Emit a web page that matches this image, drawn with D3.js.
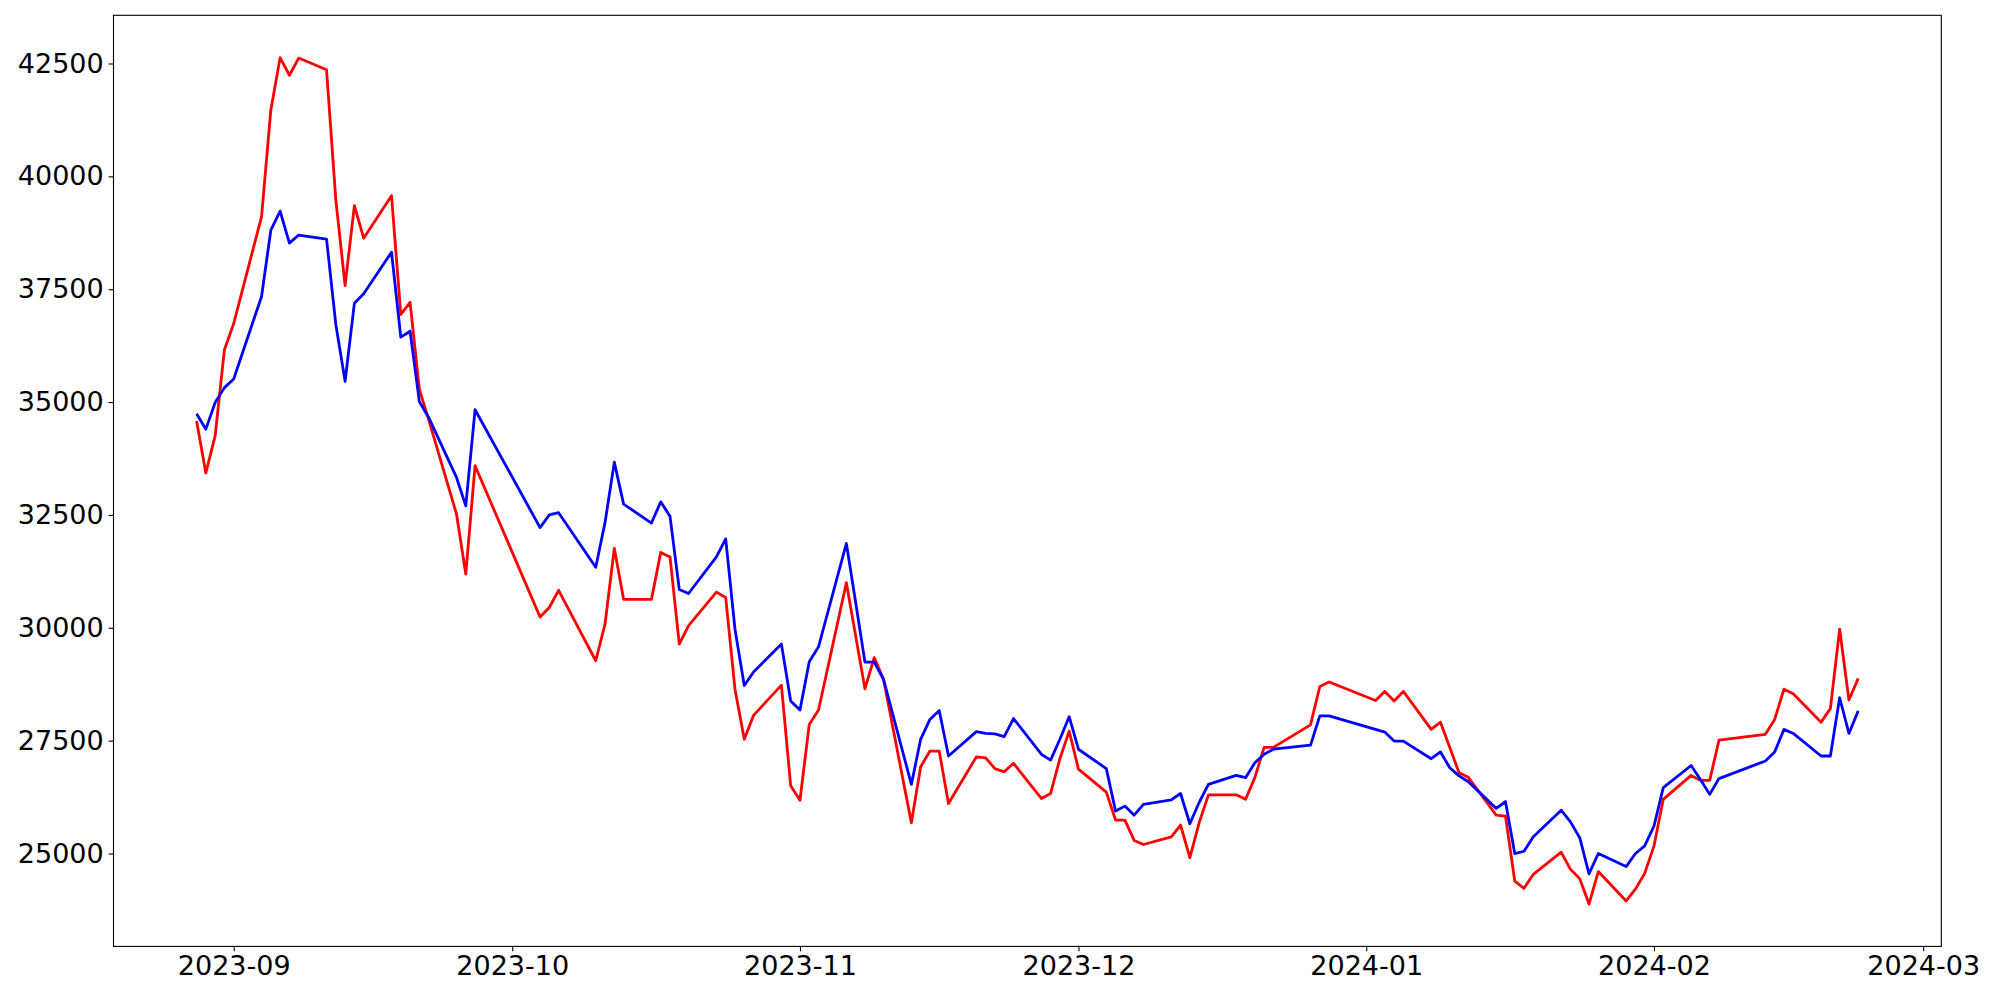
<!DOCTYPE html>
<html>
<head>
<meta charset="utf-8">
<script src="https://cdn.jsdelivr.net/npm/d3@7"></script>
<style>
  body { margin: 0; background: #ffffff; }
  svg { display: block; }
</style>
</head>
<body>
<div id="chart"></div>
<script>
(function() {
	"use strict";

	// trading days (KRX calendar)
	var dates = [
		"2023-08-28","2023-08-29","2023-08-30","2023-08-31","2023-09-01",
		"2023-09-04","2023-09-05","2023-09-06","2023-09-07","2023-09-08",
		"2023-09-11","2023-09-12","2023-09-13","2023-09-14","2023-09-15",
		"2023-09-18","2023-09-19","2023-09-20","2023-09-21","2023-09-22",
		"2023-09-25","2023-09-26","2023-09-27",
		"2023-10-04","2023-10-05","2023-10-06",
		"2023-10-10","2023-10-11","2023-10-12","2023-10-13",
		"2023-10-16","2023-10-17","2023-10-18","2023-10-19","2023-10-20",
		"2023-10-23","2023-10-24","2023-10-25","2023-10-26","2023-10-27",
		"2023-10-30","2023-10-31","2023-11-01","2023-11-02","2023-11-03",
		"2023-11-06","2023-11-07","2023-11-08","2023-11-09","2023-11-10",
		"2023-11-13","2023-11-14","2023-11-15","2023-11-16","2023-11-17",
		"2023-11-20","2023-11-21","2023-11-22","2023-11-23","2023-11-24",
		"2023-11-27","2023-11-28","2023-11-29","2023-11-30","2023-12-01",
		"2023-12-04","2023-12-05","2023-12-06","2023-12-07","2023-12-08",
		"2023-12-11","2023-12-12","2023-12-13","2023-12-14","2023-12-15",
		"2023-12-18","2023-12-19","2023-12-20","2023-12-21","2023-12-22",
		"2023-12-26","2023-12-27","2023-12-28",
		"2024-01-02","2024-01-03","2024-01-04","2024-01-05",
		"2024-01-08","2024-01-09","2024-01-10","2024-01-11","2024-01-12",
		"2024-01-15","2024-01-16","2024-01-17","2024-01-18","2024-01-19",
		"2024-01-22","2024-01-23","2024-01-24","2024-01-25","2024-01-26",
		"2024-01-29","2024-01-30","2024-01-31","2024-02-01","2024-02-02",
		"2024-02-05","2024-02-06","2024-02-07","2024-02-08",
		"2024-02-13","2024-02-14","2024-02-15","2024-02-16",
		"2024-02-19","2024-02-20","2024-02-21","2024-02-22","2024-02-23"
	];

	var redValues = [
		34580, 33430, 34250, 36160, 36740,
		39110, 41470, 42630, 42240, 42620,
		42360, 39480, 37580, 39350, 38630,
		39570, 36940, 37210, 35280, 34610,
		32520, 31190, 33590,
		30240, 30450, 30830,
		29270, 30080, 31760, 30630,
		30630, 31670, 31570, 29640, 30050,
		30790, 30670, 28640, 27530, 28060,
		28730, 26500, 26180, 27860, 28180,
		31000, 29820, 28650, 29340, 28860,
		25680, 26920, 27270, 27270, 26110,
		27140, 27120, 26880, 26810, 27000,
		26220, 26330, 27100, 27710, 26870,
		26360, 25740, 25740, 25290, 25200,
		25370, 25630, 24910, 25680, 26300,
		26300, 26200, 26680, 27350, 27350,
		27850, 28700, 28800,
		28390, 28590, 28380, 28590,
		27750, 27910, 27350, 26790, 26690,
		25850, 25830, 24390, 24230, 24540,
		25030, 24650, 24440, 23880, 24600,
		23950, 24210, 24560, 25170, 26200,
		26730, 26620, 26620, 27510,
		27640, 27970, 28640, 28540,
		27910, 28210, 29970, 28400, 28880
	];

	var blueValues = [
		34740, 34400, 34990, 35320, 35510,
		37340, 38810, 39230, 38520, 38700,
		38610, 36720, 35460, 37190, 37400,
		38320, 36440, 36570, 35010, 34660,
		33330, 32700, 34830,
		32220, 32500, 32550,
		31340, 32330, 33670, 32740,
		32320, 32790, 32470, 30850, 30760,
		31570, 31970, 29970, 28720, 29020,
		29640, 28380, 28180, 29250, 29580,
		31870, 30560, 29240, 29240, 28860,
		26530, 27530, 27970, 28170, 27160,
		27700, 27660, 27650, 27590, 27990,
		27200, 27070, 27530, 28030, 27310,
		26880, 25940, 26050, 25850, 26090,
		26190, 26330, 25660, 26130, 26530,
		26730, 26680, 27010, 27200, 27310,
		27400, 28050, 28050,
		27750, 27690, 27490, 27490,
		27100, 27250, 26900, 26720, 26590,
		26000, 26150, 25000, 25050, 25370,
		25960, 25700, 25350, 24550, 25000,
		24710, 25000, 25170, 25610, 26460,
		26950, 26640, 26310, 26660,
		27050, 27250, 27750, 27660,
		27160, 27160, 28450, 27660, 28160
	];

	var yTicks = [25000, 27500, 30000, 32500, 35000, 37500, 40000, 42500];
	var xTicks = ["2023-09-01","2023-10-01","2023-11-01","2023-12-01","2024-01-01","2024-02-01","2024-03-01"];

	var W = 2000, H = 1000;
	var margin = { top: 15.3, right: 58.7, bottom: 53.6, left: 113.5 };
	var w = W - margin.left - margin.right;
	var h = H - margin.top - margin.bottom;

	var parse = d3.utcParse("%Y-%m-%d");
	var x = dates.map(parse);

	// matplotlib style 5% margins
	var xExt = d3.extent(x);
	var xPad = (xExt[1] - xExt[0]) * 0.05;
	var allY = redValues.concat(blueValues);
	var yExt = d3.extent(allY);
	var yPad = (yExt[1] - yExt[0]) * 0.05;

	var xScale = d3.scaleUtc()
		.domain([new Date(+xExt[0] - xPad), new Date(+xExt[1] + xPad)])
		.range([0, w]);
	var yScale = d3.scaleLinear()
		.domain([yExt[0] - yPad, yExt[1] + yPad])
		.range([h, 0]);

	var svg = d3.select("#chart").append("svg")
		.attr("width", W)
		.attr("height", H);

	var g = svg.append("g")
		.attr("transform", "translate(" + margin.left + "," + margin.top + ")");

	var line = d3.line()
		.x(function(d, i) { return xScale(x[i]); })
		.y(function(d) { return yScale(d); });

	g.append("path")
		.datum(redValues)
		.attr("fill", "none")
		.attr("stroke", "#ff0000")
		.attr("stroke-width", 2.8)
		.attr("stroke-linejoin", "round")
		.attr("d", line);

	g.append("path")
		.datum(blueValues)
		.attr("fill", "none")
		.attr("stroke", "#0000ff")
		.attr("stroke-width", 2.8)
		.attr("stroke-linejoin", "round")
		.attr("d", line);

	var tickLen = 4.9;

	var xAxis = g.append("g")
		.attr("transform", "translate(0," + h + ")")
		.call(d3.axisBottom(xScale)
			.tickValues(xTicks.map(parse))
			.tickFormat(d3.utcFormat("%Y-%m"))
			.tickSize(tickLen)
			.tickPadding(4.9));

	var yAxis = g.append("g")
		.call(d3.axisLeft(yScale)
			.tickValues(yTicks)
			.tickFormat(d3.format("d"))
			.tickSize(tickLen)
			.tickPadding(4.9));

	[xAxis, yAxis].forEach(function(a) {
		a.select(".domain").remove();
		a.selectAll(".tick line").attr("stroke", "#000").attr("stroke-width", 1.1);
		a.selectAll(".tick text")
			.attr("fill", "#000")
			.style("font-family", "'DejaVu Sans', sans-serif")
			.style("font-size", "27px");
	});

	// frame
	g.append("rect")
		.attr("x", 0)
		.attr("y", 0)
		.attr("width", w)
		.attr("height", h)
		.attr("fill", "none")
		.attr("stroke", "#000")
		.attr("stroke-width", 1.1);
}());
</script>
</body>
</html>
